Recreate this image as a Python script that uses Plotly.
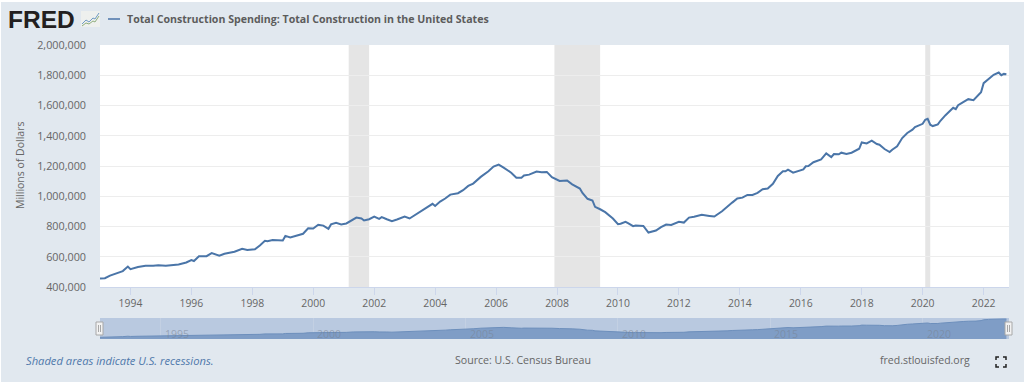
import plotly.graph_objects as go

dates = ["1993-01","1993-03","1993-05","1993-07","1993-09","1993-10","1993-12","1994-01","1994-04","1994-07","1994-10","1994-12",
"1995-03","1995-08","1995-11","1996-01","1996-02","1996-04","1996-07","1996-09","1996-12","1997-02","1997-06","1997-09","1997-11",
"1998-02","1998-04","1998-06","1998-07","1998-09","1999-01","1999-02","1999-04","1999-07","1999-09","1999-11","2000-01","2000-03","2000-05","2000-07","2000-08","2000-10","2000-12",
"2001-02","2001-05","2001-06","2001-08","2001-09","2001-11","2002-01","2002-03","2002-04","2002-06","2002-08","2002-10","2003-01","2003-03","2003-04","2003-07","2003-10","2003-12",
"2004-01","2004-03","2004-05","2004-07","2004-10","2004-12","2005-02","2005-04","2005-07","2005-10","2005-12","2006-02","2006-04","2006-07","2006-09","2006-11","2006-12","2007-02","2007-05","2007-07","2007-09","2007-11",
"2008-02","2008-05","2008-07","2008-10","2008-11","2009-01","2009-03","2009-04","2009-06","2009-08","2009-11","2010-01","2010-02","2010-04","2010-05","2010-07","2010-08","2010-11",
"2011-01","2011-04","2011-06","2011-08","2011-10","2012-01","2012-03","2012-05","2012-07","2012-10","2013-01","2013-03","2013-06","2013-08","2013-10","2013-12",
"2014-02","2014-04","2014-06","2014-08","2014-10","2014-12","2015-02","2015-04","2015-06","2015-07","2015-08","2015-10",
"2016-02","2016-03","2016-04","2016-06","2016-07","2016-09","2016-11","2017-01","2017-02","2017-04","2017-05","2017-07","2017-09","2017-12",
"2018-01","2018-03","2018-05","2018-07","2018-08","2018-10","2018-12","2019-01","2019-03","2019-04","2019-05","2019-07","2019-09","2019-10","2020-01","2020-02","2020-03","2020-04","2020-05","2020-07","2020-08","2020-10",
"2021-01","2021-02","2021-03","2021-05","2021-07","2021-09","2021-10","2021-12","2022-01","2022-03","2022-05","2022-07","2022-08","2022-09","2022-10"]
values = [456,458,475,489,500,505,535,518,532,540,540,543,
541,549,562,578,572,603,604,624,607,620,633,653,645,
649,675,705,702,710,708,738,728,745,752,788,787,812,806,785,814,824,814,
820,853,859,853,840,848,866,851,862,848,835,846,866,853,864,901,934,950,
936,965,985,1011,1020,1040,1068,1084,1128,1165,1196,1209,1189,1156,1123,1123,1137,1143,1163,1159,1161,1126,
1101,1104,1079,1051,1022,983,972,930,914,895,853,815,818,831,822,802,807,804,
760,773,796,813,810,831,826,859,864,877,870,866,901,932,958,985,
991,1009,1009,1022,1046,1051,1082,1134,1165,1165,1176,1156,
1178,1198,1200,1225,1231,1244,1283,1259,1279,1277,1288,1279,1288,1314,
1356,1349,1367,1345,1341,1312,1292,1308,1330,1363,1385,1418,1440,1457,1479,1506,1512,1473,1464,1475,1499,1536,
1585,1576,1602,1622,1642,1635,1653,1688,1748,1776,1803,1818,1800,1809,1807]
values_usd = [v * 1000 for v in values]

recession_starts = ["2001-03-01", "2007-12-01", "2020-02-01"]
recession_ends = ["2001-11-01", "2009-06-01", "2020-04-01"]
nav_labels = ["1995", "2000", "2005", "2010", "2015", "2020"]

SERIES = "Total Construction Spending: Total Construction in the United States"
W, H = 1024, 383
BG, LINE, TXT = "#e1e8ef", "#4a75a8", "#666666"
FONT = "Open Sans"
px = lambda x: x / W
py = lambda y: 1 - y / H


def pshape(kind, x0, y0, x1, y1, **kw):
    return dict(type=kind, xref="paper", yref="paper", x0=px(x0), x1=px(x1), y0=py(y0), y1=py(y1), **kw)


def ptext(text, x, y, size=10, color=TXT, anchor="left", family=FONT, **kw):
    return dict(text=text, x=px(x), y=py(y), xref="paper", yref="paper", xanchor=anchor, yanchor="middle",
                showarrow=False, borderpad=0, borderwidth=0, font=dict(family=family, size=size, color=color), **kw)


def abspath(pts):
    return "M" + "L".join(f"{px(a):.5f},{py(b):.5f}" for a, b in pts)


fig = go.Figure()
fig.add_trace(go.Scatter(x=dates, y=values_usd, mode="lines", name=SERIES,
                         line=dict(color=LINE, width=2), xaxis="x", yaxis="y", showlegend=False))
fig.add_trace(go.Scatter(x=dates, y=values_usd, mode="lines", fill="tozeroy", fillcolor="#7f9dc6",
                         line=dict(color="#6d8fbc", width=1), xaxis="x2", yaxis="y2",
                         showlegend=False, hoverinfo="skip"))

shapes = [pshape("rect", 0, 0, 1024, 2, fillcolor="#ffffff", line_width=0, layer="below"),
          pshape("rect", 0, 382, 1024, 383, fillcolor="#ffffff", line_width=0, layer="below"),
          pshape("rect", 0, 0, 1, 383, fillcolor="#ffffff", line_width=0, layer="below"),
          pshape("rect", 100, 318, 1009, 339, fillcolor="#b9c9e0", line_width=0, layer="below")]
for s, e in zip(recession_starts, recession_ends):
    shapes.append(dict(type="rect", xref="x", yref="y domain", x0=s, x1=e, y0=0, y1=1,
                       fillcolor="#e5e5e5", line_width=0, layer="below"))
# legend key
shapes.append(pshape("line", 108, 19, 120, 19, line=dict(color=LINE, width=1.5)))
# FRED icon
shapes.append(pshape("rect", 81, 11, 100, 27, fillcolor="#eef0ee", line_width=0))
shapes.append(dict(type="path", xref="paper", yref="paper",
                   path=abspath([(82, 24), (86, 20), (89, 22), (93, 18), (95, 19), (99, 13)]),
                   line=dict(color="#6f9bc4", width=1)))
shapes.append(dict(type="path", xref="paper", yref="paper",
                   path=abspath([(82, 26), (86, 23), (89, 24), (93, 21), (95, 22), (99, 16)]),
                   line=dict(color="#8fae7d", width=1)))
# navigator handles
for hx in (99.5, 1008.5):
    shapes.append(pshape("rect", hx - 3.5, 322, hx + 3.5, 335, fillcolor="#f2f2f2",
                         line=dict(color="#a8a8a8", width=1)))
    for dx in (-1, 1):
        shapes.append(pshape("line", hx + dx, 325, hx + dx, 332, line=dict(color="#a8a8a8", width=1)))
# fullscreen icon
for cx, cy, sx, sy in ((996, 357, 1, 1), (1006, 357, -1, 1), (996, 367, 1, -1), (1006, 367, -1, -1)):
    shapes.append(dict(type="path", xref="paper", yref="paper",
                       path=abspath([(cx + 3 * sx, cy), (cx, cy), (cx, cy + 3 * sy)]),
                       line=dict(color="#222222", width=1.5)))

annotations = [
    ptext("<b>FRED</b>", 8, 19.5, size=24.5, color="#231f20", family="Liberation Sans"),
    ptext(f"<b>{SERIES}</b>", 127, 19, size=10.6, color="#5c5c5c"),
    ptext("<i>Shaded areas indicate U.S. recessions.</i>", 26, 360, size=11.2, color="#4f78ab"),
    ptext("Source: U.S. Census Bureau", 455, 360, size=10.6),
    ptext("fred.stlouisfed.org", 880, 360, size=10.5),
    ptext("Millions of Dollars", 20, 166, size=10.5, anchor="center", textangle=-90),
]
for lab in nav_labels:
    annotations.append(dict(text=lab, x=f"{lab}-01-01", xref="x2", y=0.24, yref="y2 domain", xanchor="left",
                            xshift=2, yanchor="middle", showarrow=False,
                            font=dict(family=FONT, size=10.5, color="rgba(120,130,145,0.55)")))

fig.update_layout(
    width=W, height=H, margin=dict(l=0, r=0, t=0, b=0, autoexpand=False), paper_bgcolor=BG, plot_bgcolor="#ffffff",
    font=dict(family=FONT, size=10.5, color=TXT), shapes=shapes, annotations=annotations, hovermode="x",
    xaxis=dict(domain=[px(100), px(1009)], type="date", range=["1993-01-01", "2022-11-01"], anchor="y",
               dtick="M24", tick0="1994-01-01", tickformat="%Y", showgrid=False, ticks="outside", ticklen=7,
               tickcolor="#ccd6eb", showline=True, linecolor="#ccd6eb", linewidth=1, zeroline=False,
               tickfont=dict(size=10.4, color=TXT)),
    yaxis=dict(domain=[py(287), py(45)], range=[400000, 2000000], dtick=200000, tick0=400000, tickformat=",",
               anchor="x", gridcolor="#ededed", gridwidth=1, zeroline=False, showline=False,
               ticks="", ticklen=0, ticklabelstandoff=13, tickfont=dict(size=10.8, color=TXT)),
    xaxis2=dict(domain=[px(100), px(1009)], type="date", range=["1993-01-01", "2022-11-01"], anchor="y2",
                dtick="M60", tick0="2000-01-01", showticklabels=False, ticks="", showgrid=True,
                gridcolor="#c3d0e3", zeroline=False, showline=False),
    yaxis2=dict(domain=[py(339), py(318)], range=[330000, 1880000], anchor="x2", showticklabels=False,
                showgrid=False, zeroline=False, ticks=""),
)

fig.write_html("out.html", config=dict(displayModeBar=False),
               post_script="document.body.style.margin='0';document.documentElement.style.overflow='hidden';")
